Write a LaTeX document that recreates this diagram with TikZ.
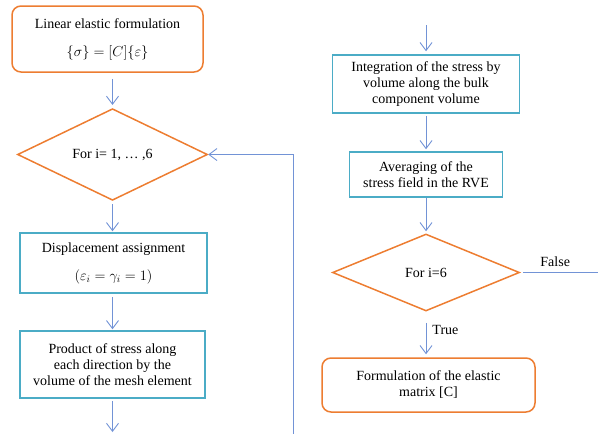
\documentclass[tikz,border=0pt]{standalone}
\usepackage{fontspec}
\setmainfont{Liberation Serif}
\usetikzlibrary{
    positioning,
    arrows.meta,
    shapes.geometric
}
\definecolor{boxOrange}{RGB}{237, 125, 49}
\definecolor{boxTeal}{RGB}{75, 172, 198}
\definecolor{flowBlue}{RGB}{114, 147, 214}

\begin{document}
\begin{tikzpicture}[x=1pt, y=-1pt, >={Straight Barb[length=8pt, width=12pt]},
    every node/.style={font=\fontsize{14}{16}\selectfont, align=center, inner sep=0pt, text=black},
    startbox/.style={rectangle, draw=boxOrange, line width=1.5pt, rounded corners=9pt},
    procbox/.style={rectangle, draw=boxTeal, line width=1.5pt},
    testbox/.style={diamond, draw=boxOrange, line width=1.5pt},
    flow/.style={->, flowBlue, line width=0.9pt}]
            \useasboundingbox (0,0) rectangle (598,434);

            % left column
            \node[startbox, minimum width=191pt, minimum height=66pt] (linear) at (107.5,39)
                {Linear elastic formulation\\[12pt] $\{\sigma\} = [C]\{\varepsilon\}$};
            \node[testbox, minimum width=190pt, minimum height=77pt] (loopA) at (112.5,154.5) {For i= 1, … ,6};
            \node[procbox, minimum width=187pt, minimum height=60pt] (disp) at (113.5,263)
                {Displacement assignment\\[12pt] $(\varepsilon_i = \gamma_i = 1)$};
            \node[procbox, minimum width=185pt, minimum height=67pt] (prod) at (112.5,364.5)
                {Product of stress along\\ each direction by the\\ volume of the mesh element};
            \coordinate (leftEnd) at (112.5,434);
            \coordinate (loopFoot) at (293,434);

            % right column
            \coordinate (rightStart) at (426,25);
            \node[procbox, minimum width=187pt, minimum height=58pt] (integ) at (426,84)
                {Integration of the stress by\\ volume along the bulk\\ component volume};
            \node[procbox, minimum width=153pt, minimum height=45pt] (avg) at (426,174.5)
                {Averaging of the\\ stress field in the RVE};
            \node[testbox, minimum width=187pt, minimum height=77pt] (check) at (426,272.5) {For i=6};
            \node[startbox, minimum width=213pt, minimum height=54pt] (formC) at (428.5,385)
                {Formulation of the elastic\\ matrix [C]};
            \coordinate (falseEnd) at (598,272.5);

            % connectors
            \draw[flow, shorten <=6pt, shorten >=3pt] (loopA.north |- linear.south) -- (loopA.north);
            \draw[flow, shorten <=3pt, shorten >=1pt] (loopA.south) -- (loopA.south |- disp.north);
            \draw[flow, shorten <=3pt, shorten >=1pt] (disp.south -| loopA.south) -- (loopA.south |- prod.north);
            \draw[flow, shorten <=2pt, shorten >=2pt] (prod.south -| leftEnd) -- (leftEnd);
            \draw[flow] (loopFoot) -- (loopFoot |- loopA.east) -- (loopA.east);

            \draw[flow, shorten >=3pt] (rightStart) -- (rightStart |- integ.north);
            \draw[flow, shorten <=2pt, shorten >=2pt] (integ.south) -- (avg.north);
            \draw[flow, shorten >=2pt] (avg.south) -- (check.north);
            \draw[flowBlue, line width=0.9pt, shorten <=3pt] (check.east) -- (falseEnd)
                node[pos=0.45, above=5pt] {False};
            \draw[flow, shorten <=11pt, shorten >=3pt] (check.south) -- (check.south |- formC.north)
                node[pos=0.4, right=6pt] {True};
        \end{tikzpicture}
\end{document}
